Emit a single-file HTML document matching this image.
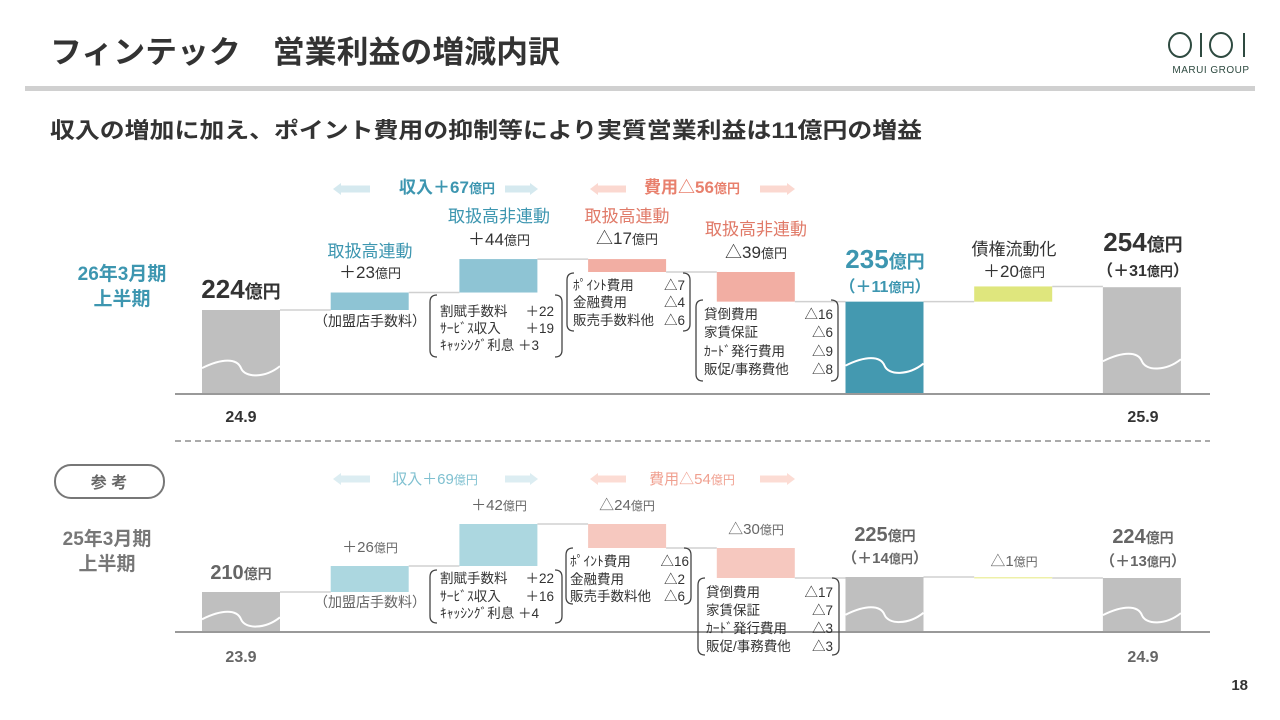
<!DOCTYPE html>
<html><head><meta charset="utf-8"><style>
body{margin:0;width:1280px;height:720px;overflow:hidden;background:#fff;font-family:"Liberation Sans","Noto Sans CJK JP",sans-serif;}
svg{display:block}
text{font-family:"Liberation Sans","Noto Sans CJK JP",sans-serif;}
</style></head><body>
<svg id="s" width="1280" height="720" viewBox="0 0 1280 720">
<text x="50" y="63" font-size="31" font-weight="bold" fill="#333" textLength="510" lengthAdjust="spacingAndGlyphs">フィンテック　営業利益の増減内訳</text>
<rect x="25" y="86" width="1230" height="5" fill="#d0d0d0"/>
<g stroke="#2e4a40" stroke-width="2" fill="none">
<ellipse cx="1180" cy="45" rx="11" ry="12"/><line x1="1201" y1="33" x2="1201" y2="57"/><ellipse cx="1221" cy="45" rx="11" ry="12"/><line x1="1244" y1="33" x2="1244" y2="57"/>
</g>
<text x="1211" y="73" font-size="10" fill="#2e4a40" text-anchor="middle" letter-spacing="0.5">MARUI GROUP</text>
<text x="50" y="138" font-size="22" font-weight="bold" fill="#333" textLength="872" lengthAdjust="spacingAndGlyphs">収入の増加に加え、ポイント費用の抑制等により実質営業利益は11億円の増益</text>

<g id="top"></g>
<g id="bot"></g>

<line x1="175" y1="441" x2="1210" y2="441" stroke="#aaa" stroke-width="2" stroke-dasharray="6,4"/>
<rect x="55" y="465" width="109" height="33" rx="16" fill="#fff" stroke="#777" stroke-width="2"/>
<text x="109" y="488" font-size="16" font-weight="bold" fill="#666" text-anchor="middle">参 考</text>

<g font-weight="bold" text-anchor="middle">
<text x="122" y="280" font-size="19" fill="#3d96b0">26年3月期</text><text x="122" y="305" font-size="19" fill="#3d96b0">上半期</text>
<text x="107" y="545" font-size="19" fill="#777">25年3月期</text><text x="107" y="570" font-size="19" fill="#777">上半期</text>
</g>
<text x="1248" y="690" font-size="15" font-weight="bold" fill="#333" text-anchor="end">18</text>

<g text-anchor="middle" fill="#333">
<text x="447" y="193" font-size="17" font-weight="bold" fill="#3d96b0">収入＋67<tspan font-size="13">億円</tspan></text>
<text x="692" y="193" font-size="17" font-weight="bold" fill="#e8806d">費用△56<tspan font-size="13">億円</tspan></text>
<text x="241" y="298" font-size="26" font-weight="bold">224<tspan font-size="18">億円</tspan></text>
<text x="370" y="257" font-size="17" fill="#3d96b0">取扱高連動</text><text x="370" y="278" font-size="17">＋23<tspan font-size="13">億円</tspan></text>
<text x="499" y="222" font-size="17" fill="#3d96b0">取扱高非連動</text><text x="499" y="245" font-size="17">＋44<tspan font-size="13">億円</tspan></text>
<text x="627" y="222" font-size="17" fill="#e07a68">取扱高連動</text><text x="627" y="244" font-size="17">△17<tspan font-size="13">億円</tspan></text>
<text x="756" y="235" font-size="17" fill="#e07a68">取扱高非連動</text><text x="756" y="258" font-size="17">△39<tspan font-size="13">億円</tspan></text>
<text x="885" y="268" font-size="26" font-weight="bold" fill="#3d96b0">235<tspan font-size="18">億円</tspan></text>
<text x="885" y="292" font-size="16" font-weight="bold" fill="#3d96b0">（＋11<tspan font-size="13">億円</tspan>）</text>
<text x="1014" y="255" font-size="17">債権流動化</text><text x="1014" y="277" font-size="17">＋20<tspan font-size="13">億円</tspan></text>
<text x="1143" y="251" font-size="26" font-weight="bold">254<tspan font-size="18">億円</tspan></text>
<text x="1143" y="276" font-size="16" font-weight="bold">（＋31<tspan font-size="13">億円</tspan>）</text>
<text x="370" y="326" font-size="14">（加盟店手数料）</text>
<text x="241" y="422" font-size="16" font-weight="bold">24.9</text><text x="1143" y="422" font-size="16" font-weight="bold">25.9</text>
</g>
<g fill="#333" font-size="13.5">
<text x="440" y="316">割賦手数料</text><text x="554" y="316" text-anchor="end">＋22</text>
<text x="440" y="333">ｻｰﾋﾞｽ収入</text><text x="554" y="333" text-anchor="end">＋19</text>
<text x="440" y="350">ｷｬｯｼﾝｸﾞ利息 ＋3</text>
<text x="573" y="290">ﾎﾟｲﾝﾄ費用</text><text x="685" y="290" text-anchor="end">△7</text>
<text x="573" y="307">金融費用</text><text x="685" y="307" text-anchor="end">△4</text>
<text x="573" y="325">販売手数料他</text><text x="685" y="325" text-anchor="end">△6</text>
<text x="704" y="319">貸倒費用</text><text x="833" y="319" text-anchor="end">△16</text>
<text x="704" y="337">家賃保証</text><text x="833" y="337" text-anchor="end">△6</text>
<text x="704" y="356">ｶｰﾄﾞ発行費用</text><text x="833" y="356" text-anchor="end">△9</text>
<text x="704" y="374">販促/事務費他</text><text x="833" y="374" text-anchor="end">△8</text>
</g>

<g text-anchor="middle" fill="#666">
<text x="435" y="484" font-size="15" fill="#7fc0d0">収入＋69<tspan font-size="12">億円</tspan></text>
<text x="692" y="484" font-size="15" fill="#f0a090">費用△54<tspan font-size="12">億円</tspan></text>
<text x="241" y="579" font-size="20" font-weight="bold">210<tspan font-size="14">億円</tspan></text>
<text x="370" y="552" font-size="15">＋26<tspan font-size="12">億円</tspan></text>
<text x="499" y="510" font-size="15">＋42<tspan font-size="12">億円</tspan></text>
<text x="627" y="510" font-size="15">△24<tspan font-size="12">億円</tspan></text>
<text x="756" y="534" font-size="15">△30<tspan font-size="12">億円</tspan></text>
<text x="885" y="541" font-size="20" font-weight="bold">225<tspan font-size="14">億円</tspan></text>
<text x="885" y="563" font-size="15" font-weight="bold">（＋14<tspan font-size="12">億円</tspan>）</text>
<text x="1014" y="566" font-size="15">△1<tspan font-size="12">億円</tspan></text>
<text x="1143" y="543" font-size="20" font-weight="bold">224<tspan font-size="14">億円</tspan></text>
<text x="1143" y="566" font-size="15" font-weight="bold">（＋13<tspan font-size="12">億円</tspan>）</text>
<text x="370" y="607" font-size="14">（加盟店手数料）</text>
<text x="241" y="662" font-size="16" font-weight="bold">23.9</text><text x="1143" y="662" font-size="16" font-weight="bold">24.9</text>
</g>
<g fill="#333" font-size="13.5">
<text x="440" y="583">割賦手数料</text><text x="554" y="583" text-anchor="end">＋22</text>
<text x="440" y="601">ｻｰﾋﾞｽ収入</text><text x="554" y="601" text-anchor="end">＋16</text>
<text x="440" y="618">ｷｬｯｼﾝｸﾞ利息 ＋4</text>
<text x="570" y="566">ﾎﾟｲﾝﾄ費用</text><text x="689" y="566" text-anchor="end">△16</text>
<text x="570" y="584">金融費用</text><text x="685" y="584" text-anchor="end">△2</text>
<text x="570" y="601">販売手数料他</text><text x="685" y="601" text-anchor="end">△6</text>
<text x="706" y="597">貸倒費用</text><text x="833" y="597" text-anchor="end">△17</text>
<text x="706" y="615">家賃保証</text><text x="833" y="615" text-anchor="end">△7</text>
<text x="706" y="633">ｶｰﾄﾞ発行費用</text><text x="833" y="633" text-anchor="end">△3</text>
<text x="706" y="651">販促/事務費他</text><text x="833" y="651" text-anchor="end">△3</text>
</g>

<script>
// current period (26/3 H1)
const topStart = 224;
const topSteps = [23, 44, -17, -39];
const topSubtotal = 235;
const topAdj = 20;
const topEnd = 254;
// reference period (25/3 H1)
const botStart = 210;
const botSteps = [26, 42, -24, -30];
const botSubtotal = 225;
const botAdj = -1;
const botEnd = 224;

const NS = "http://www.w3.org/2000/svg";
function mk(parent, tag, attrs){const e=document.createElementNS(NS,tag);for(const k in attrs)e.setAttribute(k,attrs[k]);parent.appendChild(e);return e;}

function drawChart(g, cfg){
  const y = v => cfg.y0 - (v - cfg.start) * cfg.k;
  const x = i => 202 + i * 128.7;
  const W = 78;
  mk(g,'line',{x1:175,y1:cfg.base+1,x2:1210,y2:cfg.base+1,stroke:'#999','stroke-width':2});
  const bars = [];
  bars.push({a:null,b:cfg.start,total:true,c:cfg.gray});
  let cur = cfg.start;
  cfg.steps.forEach(s=>{bars.push({a:cur,b:cur+s,c:s>=0?cfg.up:cfg.down});cur+=s;});
  bars.push({a:null,b:cfg.sub,total:true,c:cfg.subC});
  bars.push({a:cfg.sub,b:cfg.sub+cfg.adj,c:cfg.adjC});
  bars.push({a:null,b:cfg.end,total:true,c:cfg.gray});
  const names=['bar-start','bar-linked-revenue','bar-nonlinked-revenue','bar-linked-cost','bar-nonlinked-cost','bar-subtotal','bar-securitization','bar-end'];
  let prevLevel=null;
  bars.forEach((b,i)=>{
    const bx=x(i);
    const top = b.total ? y(b.b) : y(Math.max(b.a,b.b));
    const bot = b.total ? cfg.base : y(Math.min(b.a,b.b));
    if(prevLevel!==null){
      const cl = mk(g,'line',{x1:x(i-1)+W,y1:prevLevel,x2:bx,y2:prevLevel,stroke:'#d0d0d0','stroke-width':1.5});
      
      
    }
    const r = mk(g,'rect',{x:bx,y:top,width:W,height:Math.max(bot-top,1.5),fill:b.c});
    
    
    if(b.total){
      const wy = cfg.base - (cfg.base-top)*0.3;
      mk(g,'path',{d:`M${bx},${wy} C${bx+20},${wy-10} ${bx+35},${wy-10} ${bx+W/2},${wy} S${bx+W-15},${wy+10} ${bx+W},${wy-2}`,stroke:'#fff','stroke-width':2,fill:'none'});
    }
    prevLevel = y(b.b);
  });
}
function bracket(g,x0,y0,x1,y1){
  const p=`M${x0+7},${y0} Q${x0},${y0} ${x0},${y0+7} V${y1-7} Q${x0},${y1} ${x0+7},${y1} M${x1-7},${y0} Q${x1},${y0} ${x1},${y0+7} V${y1-7} Q${x1},${y1} ${x1-7},${y1}`;
  const e=mk(g,'path',{d:p,stroke:'#444','stroke-width':1.3,fill:'none'});
  
  
}
function arrow(g,x0,x1,y,c,dir){
  const h=5,hw=8;
  let d = dir>0 ? `M${x0},${y-h/2} H${x1-hw} V${y-h} L${x1},${y+1} L${x1-hw},${y+h+2} V${y+h/2+2} H${x0}Z`
               : `M${x1},${y-h/2} H${x0+hw} V${y-h} L${x0},${y+1} L${x0+hw},${y+h+2} V${y+h/2+2} H${x1}Z`;
  const e=mk(g,'path',{d:d,fill:c});
  
  
}
const T=document.getElementById('top'), B=document.getElementById('bot');
drawChart(T,{start:topStart,steps:topSteps,sub:topSubtotal,adj:topAdj,end:topEnd,y0:310,k:0.76,base:393,gray:'#bfbfbf',up:'#8ec4d4',down:'#f2aea3',subC:'#4499b0',adjC:'#dfe67d'});
drawChart(B,{start:botStart,steps:botSteps,sub:botSubtotal,adj:botAdj,end:botEnd,y0:592,k:1.0,base:631,gray:'#bfbfbf',up:'#acd7e0',down:'#f6c8bf',subC:'#bfbfbf',adjC:'#eef0a8'});
bracket(T,430,295,562,357);bracket(T,567,273,690,331);bracket(T,696,300,838,381);
bracket(B,430,570,562,623);bracket(B,566,548,691,604);bracket(B,698,578,839,655);
arrow(T,333,370,188,'#d5e9ef',-1);arrow(T,505,538,188,'#d5e9ef',1);
arrow(T,590,626,188,'#fbd8d0',-1);arrow(T,760,795,188,'#fbd8d0',1);
arrow(B,333,370,478,'#dcedf2',-1);arrow(B,505,538,478,'#dcedf2',1);
arrow(B,590,626,478,'#fcdcd4',-1);arrow(B,760,795,478,'#fcdcd4',1);
</script>
</svg>
</body></html>
